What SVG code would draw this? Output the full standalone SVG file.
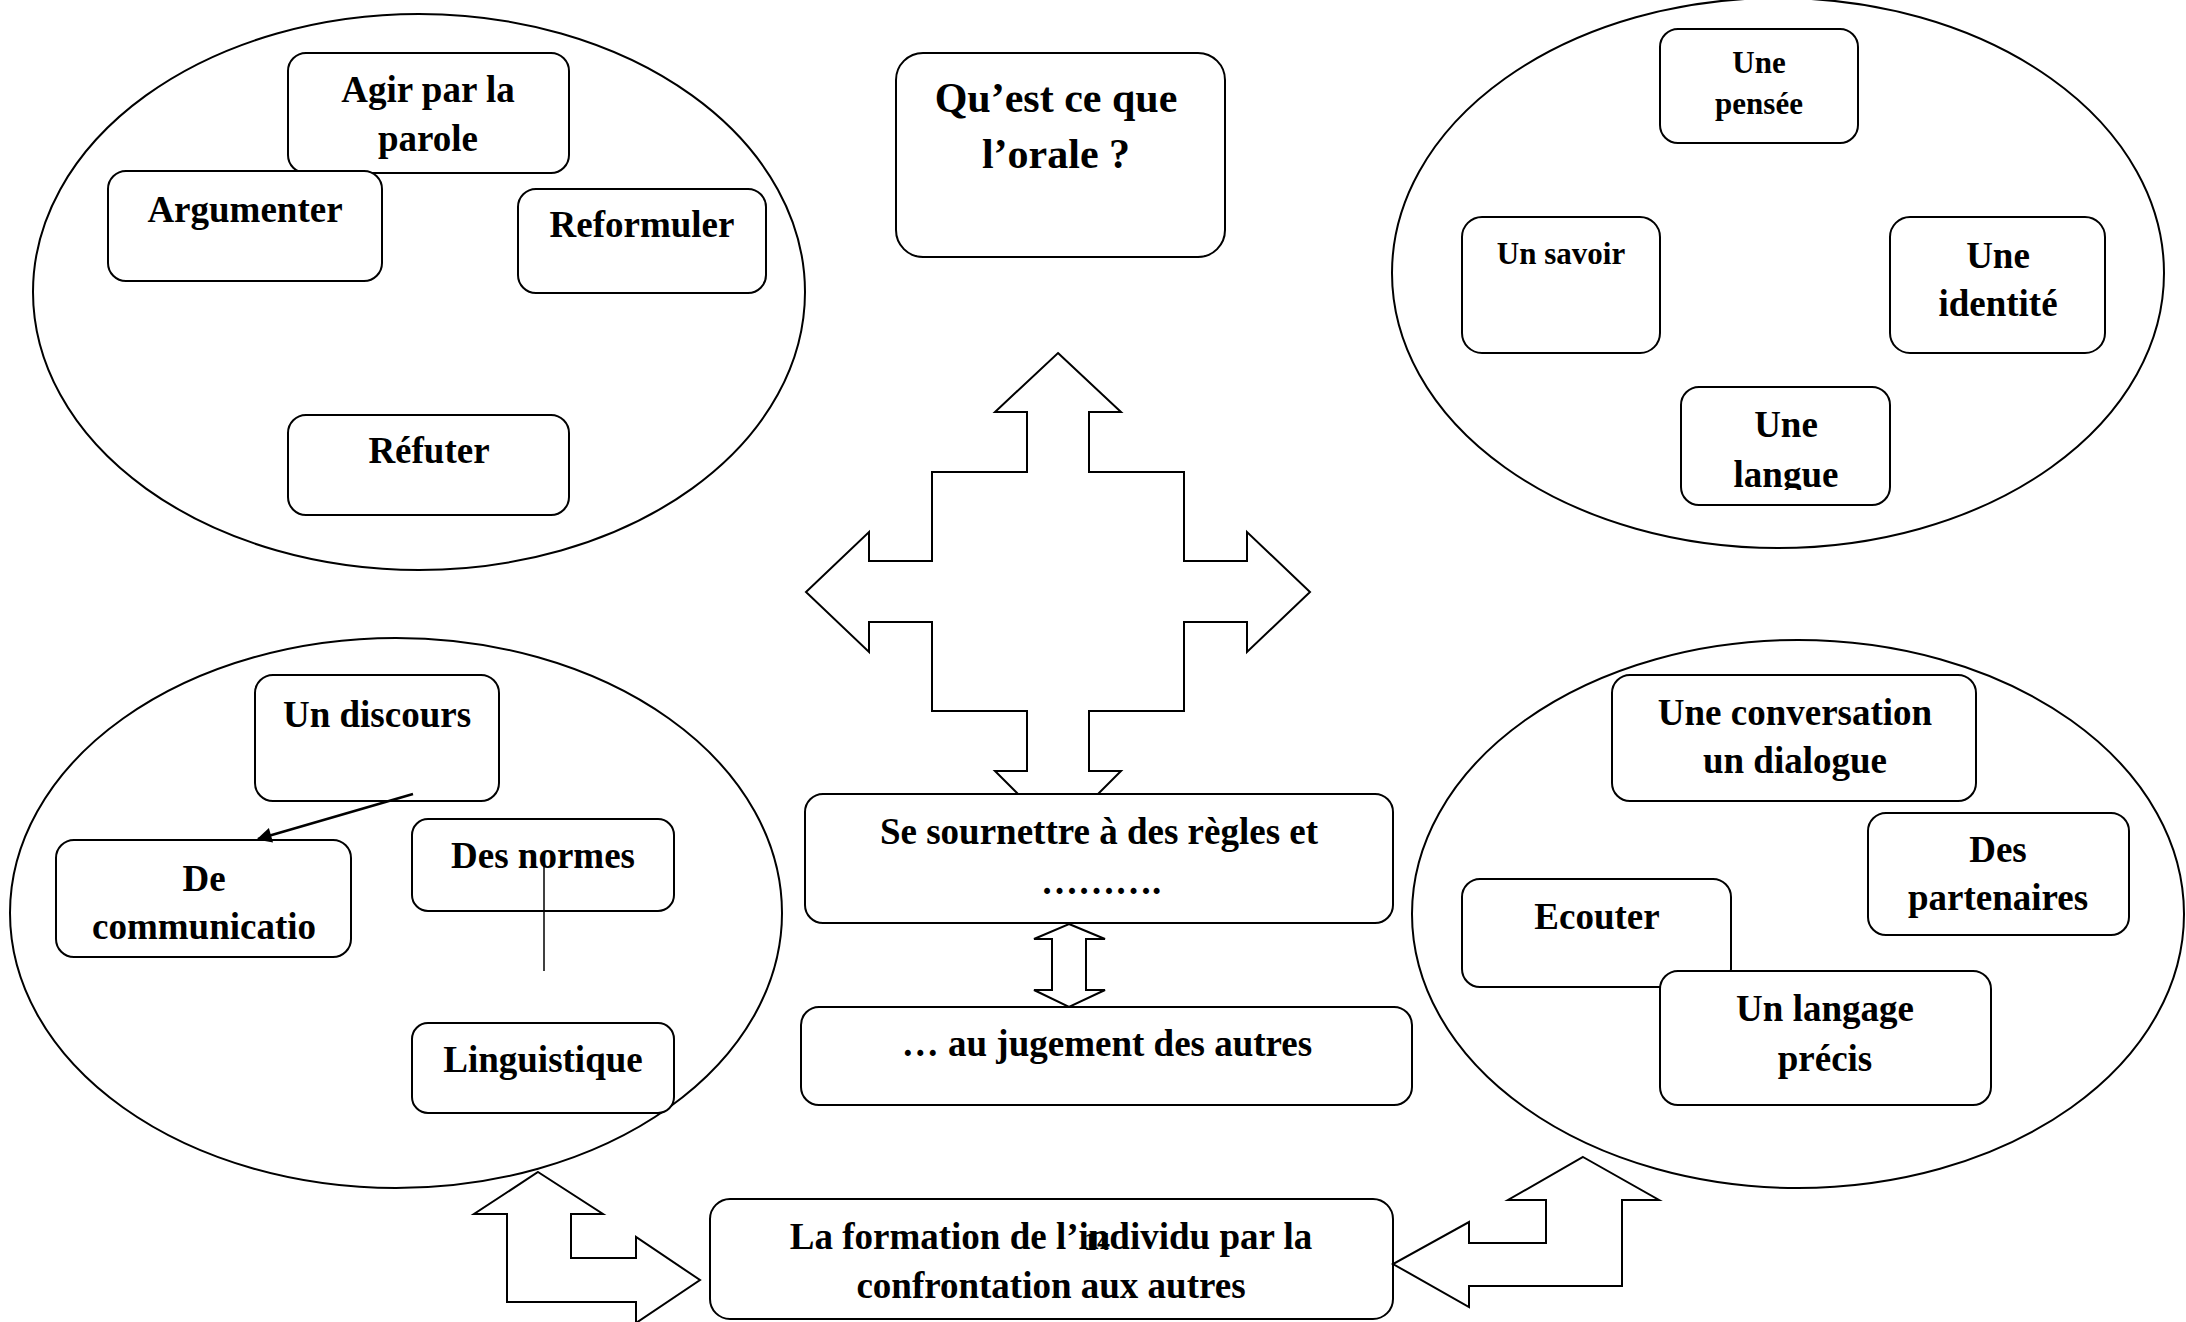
<svg xmlns="http://www.w3.org/2000/svg" width="2186" height="1322" viewBox="0 0 2186 1322">
<style>
.ell{fill:#fff;stroke:#000;stroke-width:2}
.box{fill:#fff;stroke:#000;stroke-width:2}
.t{font-family:"Liberation Serif","Times New Roman",serif;font-weight:bold;font-size:37px;fill:#000;text-anchor:middle}
.s{font-size:31px}
.big{font-size:42px}
.blk{fill:#fff;stroke:#000;stroke-width:2;stroke-linejoin:miter}
</style>
<defs>
<marker id="ah" viewBox="0 0 10 10" refX="9" refY="5" markerWidth="7" markerHeight="6" orient="auto" markerUnits="strokeWidth">
<path d="M0,0 L10,5 L0,10 Z" fill="#000"/>
</marker>
<clipPath id="clipLangue"><rect x="1681" y="387" width="209" height="103"/></clipPath>
</defs>
<rect width="2186" height="1322" fill="#fff"/>

<g id="group-top-left">
<ellipse class="ell" cx="419" cy="292" rx="386" ry="278"/>
<g id="n-agir"><rect class="box" x="288" y="53" width="281" height="120" rx="18"/>
<text class="t" x="428" y="102">Agir par la</text><text class="t" x="428" y="151">parole</text></g>
<g id="n-argumenter"><rect class="box" x="108" y="171" width="274" height="110" rx="18"/>
<text class="t" x="245" y="222">Argumenter</text></g>
<g id="n-reformuler"><rect class="box" x="518" y="189" width="248" height="104" rx="18"/>
<text class="t" x="642" y="237">Reformuler</text></g>
<g id="n-refuter"><rect class="box" x="288" y="415" width="281" height="100" rx="18"/>
<text class="t" x="429" y="463">Réfuter</text></g>
</g>

<g id="n-title"><rect class="box" x="896" y="53" width="329" height="204" rx="27"/>
<text class="t big" x="1056" y="112">Qu’est ce que</text><text class="t big" x="1056" y="168">l’orale ?</text></g>

<g id="group-top-right">
<ellipse class="ell" cx="1778" cy="273" rx="386" ry="275"/>
<g id="n-pensee"><rect class="box" x="1660" y="29" width="198" height="114" rx="18"/>
<text class="t s" x="1759" y="73">Une</text><text class="t s" x="1759" y="114">pensée</text></g>
<g id="n-savoir"><rect class="box" x="1462" y="217" width="198" height="136" rx="20"/>
<text class="t s" x="1561" y="264">Un savoir</text></g>
<g id="n-identite"><rect class="box" x="1890" y="217" width="215" height="136" rx="20"/>
<text class="t" x="1998" y="268">Une</text><text class="t" x="1998" y="316">identité</text></g>
<g id="n-langue"><rect class="box" x="1681" y="387" width="209" height="118" rx="18"/>
<g clip-path="url(#clipLangue)"><text class="t" x="1786" y="437">Une</text><text class="t" x="1786" y="487">langue</text></g></g>
</g>

<g id="group-bottom-left">
<ellipse class="ell" cx="396" cy="913" rx="386" ry="275"/>
<g id="n-discours"><rect class="box" x="255" y="675" width="244" height="126" rx="18"/>
<text class="t" x="377" y="727">Un discours</text></g>
<g id="n-communication"><rect class="box" x="56" y="840" width="295" height="117" rx="18"/>
<text class="t" x="204" y="891">De</text><text class="t" x="204" y="939">communicatio</text></g>
<g id="n-normes"><rect class="box" x="412" y="819" width="262" height="92" rx="16"/>
<text class="t" x="543" y="868">Des normes</text></g>
<g id="n-linguistique"><rect class="box" x="412" y="1023" width="262" height="90" rx="16"/>
<text class="t" x="543" y="1072">Linguistique</text></g>
</g>

<g id="group-bottom-right">
<ellipse class="ell" cx="1798" cy="914" rx="386" ry="274"/>
<g id="n-conversation"><rect class="box" x="1612" y="675" width="364" height="126" rx="18"/>
<text class="t" x="1795" y="725">Une conversation</text><text class="t" x="1795" y="773">un dialogue</text></g>
<g id="n-partenaires"><rect class="box" x="1868" y="813" width="261" height="122" rx="18"/>
<text class="t" x="1998" y="862">Des</text><text class="t" x="1998" y="910">partenaires</text></g>
<g id="n-ecouter"><rect class="box" x="1462" y="879" width="269" height="108" rx="18"/>
<text class="t" x="1597" y="929">Ecouter</text></g>
<g id="n-langage"><rect class="box" x="1660" y="971" width="331" height="134" rx="18"/>
<text class="t" x="1825" y="1021">Un langage</text><text class="t" x="1825" y="1071">précis</text></g>
</g>

<g id="n-regles"><rect class="box" x="805" y="794" width="588" height="129" rx="18"/>
<text class="t" x="1099" y="844">Se sournettre à des règles et</text><text class="t" x="1101" y="894">……….</text></g>
<g id="n-jugement"><rect class="box" x="801" y="1007" width="611" height="98" rx="18"/>
<text class="t" x="1107" y="1056">… au jugement des autres</text></g>
<g id="n-formation"><rect class="box" x="710" y="1199" width="683" height="120" rx="20"/>
<text class="t" x="1051" y="1249">La formation de l’individu par la</text><text class="t" x="1051" y="1298">confrontation aux autres</text>
<text x="1097" y="1250" font-family="Liberation Serif, serif" font-weight="bold" font-size="26" text-anchor="middle" fill="#000">14</text></g>

<g id="connectors">
<path class="blk" d="M1058,353 L1121,412 L1089,412 L1089,472 L1184,472 L1184,561 L1247,561 L1247,532 L1310,592 L1247,652 L1247,622 L1184,622 L1184,711 L1089,711 L1089,771 L1121,771 L1098,794 L1018,794 L995,771 L1027,771 L1027,711 L932,711 L932,622 L869,622 L869,652 L806,592 L869,532 L869,561 L932,561 L932,472 L1027,472 L1027,412 L995,412 Z"/>
<path class="blk" d="M1069,924 L1105,939 L1086,939 L1086,990 L1105,990 L1069,1007 L1034,990 L1052,990 L1052,939 L1034,939 Z"/>
<path class="blk" d="M538,1172 L603,1214 L571,1214 L571,1258 L636,1258 L636,1237 L700,1280 L636,1323 L636,1302 L507,1302 L507,1214 L474,1214 Z"/>
<path class="blk" d="M1583,1157 L1659,1200 L1622,1200 L1622,1286 L1469,1286 L1469,1307 L1393,1264 L1469,1222 L1469,1243 L1546,1243 L1546,1200 L1508,1200 Z"/>
<line x1="413" y1="794" x2="258" y2="839" stroke="#000" stroke-width="2.5" marker-end="url(#ah)"/>
<line x1="544" y1="864" x2="544" y2="971" stroke="#000" stroke-width="1.5"/>
</g>
</svg>
